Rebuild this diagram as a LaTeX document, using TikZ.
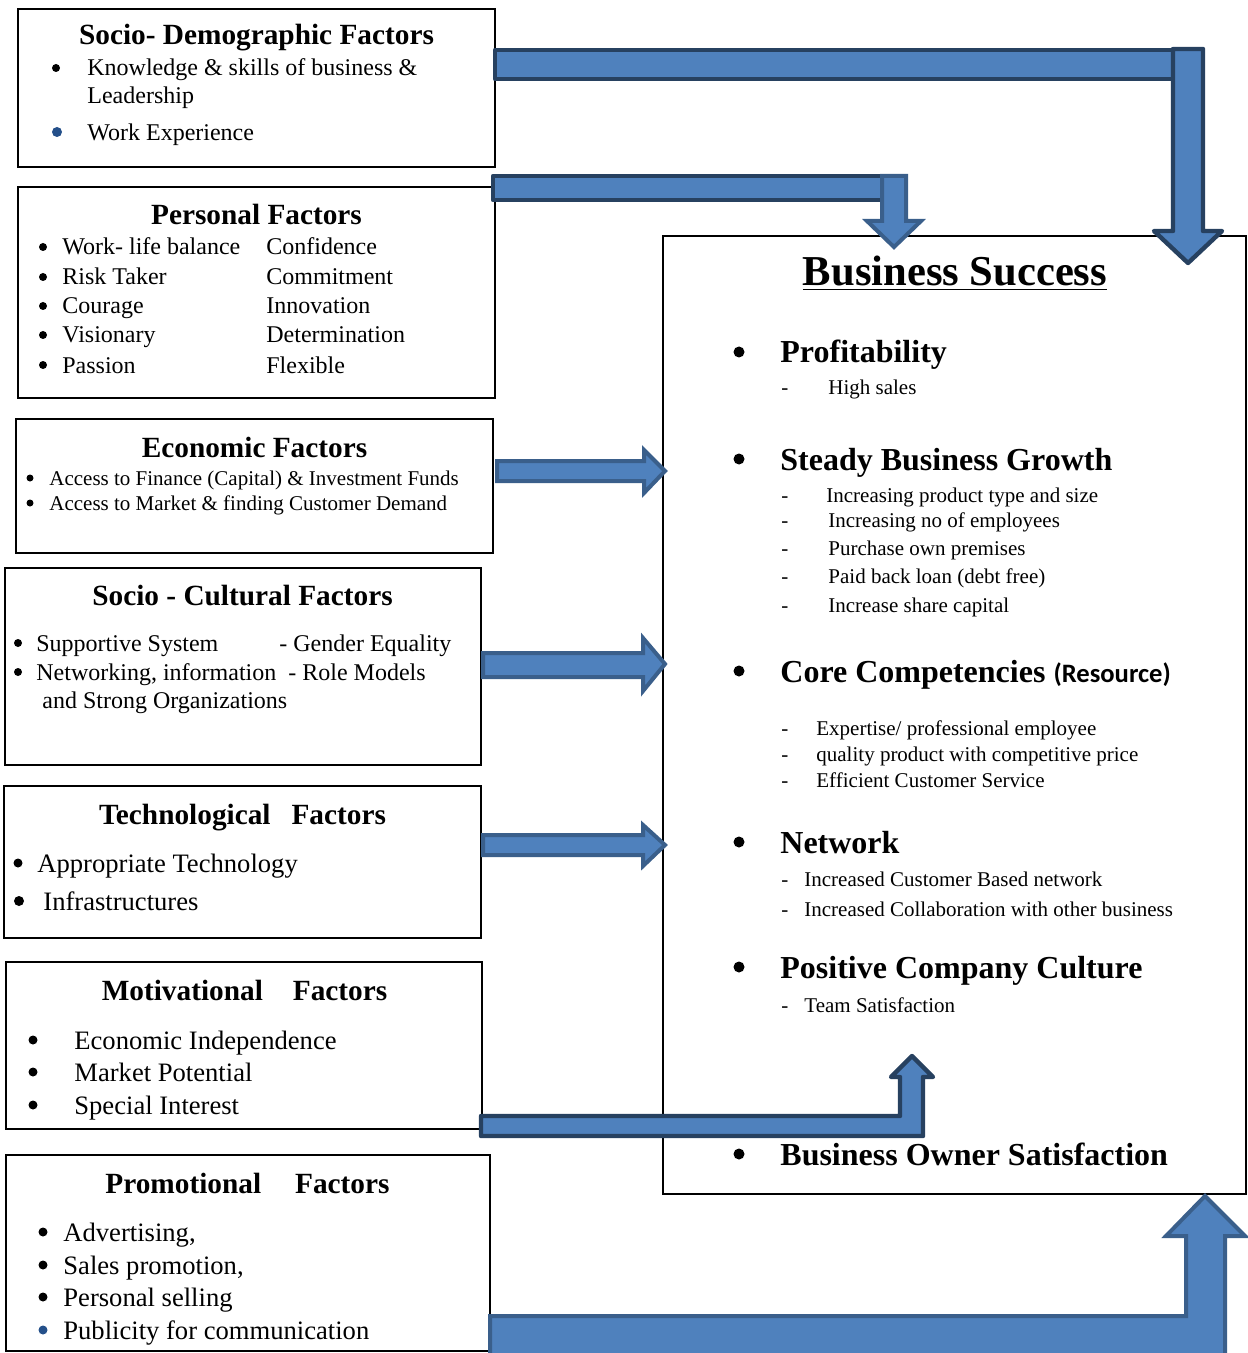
\documentclass[tikz,border=0pt]{standalone}
\usepackage{fontspec}
\setmainfont{Liberation Serif}
\newfontfamily\calibri{Carlito}
\usepackage{xcolor}

\definecolor{arrowfill}{HTML}{4F81BD}
\definecolor{arrowdark}{HTML}{274160}
\definecolor{arrowline}{HTML}{3A5F8B}
\definecolor{bulletblue}{HTML}{24508A}

\newcommand{\fsize}[1]{\fontsize{#1}{#1}\selectfont}

\tikzset{
  box/.style={draw, line width=1pt},
  barrow/.style={fill=arrowfill, draw=arrowdark, line width=2.2pt, line join=round},
  sarrow/.style={fill=arrowfill, draw=arrowline, line width=2pt, line join=miter},
  title/.style={anchor=base, inner sep=0pt, font=\fsize{14.65}\bfseries},
  txt/.style={anchor=base west, inner sep=0pt},
  body/.style={txt, font=\fsize{12}},
  small/.style={txt, font=\fsize{10.5}},
  large/.style={txt, font=\fsize{13.3}},
  goal/.style={txt, font=\fsize{16}\bfseries},
  dot/.style={circle, fill, inner sep=0pt, minimum size=#1},
  dot/.default=4pt,
}

\begin{document}
\begin{tikzpicture}[x=0.5pt, y=-0.5pt]
\useasboundingbox (0,0) rectangle (1247,1353);

% factor boxes on the left, outcome box on the right
\draw[box] (18,9) rectangle (495,167);
\draw[box] (18,187) rectangle (495,398);
\draw[box] (16,419) rectangle (493,553);
\draw[box] (5,568) rectangle (481,765);
\draw[box] (4,786) rectangle (481,938);
\draw[box] (6,962) rectangle (482,1129);
\draw[box] (6,1155) rectangle (490,1351);
\draw[line width=0.8pt] (663,236) rectangle (1246,1194);

% socio-demographic
\node[title] (sdtitle) at (256.5,45) {Socio- Demographic Factors};
\node[dot] (sdb1) at (56,68) {};
\node[body] (sd1) at (87,76) {Knowledge \& skills of business \&};
\node[body] (sd2) at (87,104) {Leadership};
\node[dot=5pt, bulletblue] (sdb2) at (57,132) {};
\node[body] (sd3) at (87,141) {Work Experience};

% personal
\node[title] (pftitle) at (256.5,225) {Personal Factors};
\foreach \y/\a/\b [count=\i] in {255/Work- life balance/Confidence,
    285/Risk Taker/Commitment, 314/Courage/Innovation,
    343/Visionary/Determination, 373/Passion/Flexible} {
  \node[dot] (pfb\i) at (43,\y-8) {};
  \node[body] (pfa\i) at (62,\y) {\a};
  \node[body] (pfc\i) at (266,\y) {\b};
}

% economic
\node[title] (eftitle) at (254.5,457) {Economic Factors};
\foreach \y/\a [count=\i] in {485/Access to Finance (Capital) \& Investment Funds,
    510/Access to Market \& finding Customer Demand} {
  \node[dot=3.5pt] (efb\i) at (30,\y-7) {};
  \node[small] (ef\i) at (49,\y) {\a};
}

% socio-cultural
\node[title] (sctitle) at (242.5,605) {Socio - Cultural Factors};
\node[dot] (scb1) at (18,643) {};
\node[body] (sc1) at (36,651) {Supportive System};
\node[body] (sc2) at (279,651) {- Gender Equality};
\node[dot] (scb2) at (18,672) {};
\node[body] (sc3) at (36,680) {Networking, information};
\node[body] (sc4) at (288,680) {- Role Models};
\node[body] (sc5) at (42,708) {and Strong Organizations};

% technological
\node[title] (tftitle) at (242.5,824) {Technological\hspace{10.5pt}Factors};
\node[dot=4.5pt] (tfb1) at (18,863) {};
\node[large] (tf1) at (37,872) {Appropriate Technology};
\node[dot=5pt] (tfb2) at (19,901) {};
\node[large] (tf2) at (43,910) {Infrastructures};

% motivational
\node[title] (mftitle) at (244.5,1000) {Motivational\hspace{15pt}Factors};
\foreach \y/\a [count=\i] in {1049/Economic Independence, 1081/Market Potential,
    1114/Special Interest} {
  \node[dot=4.5pt] (mfb\i) at (33,\y-9) {};
  \node[large] (mf\i) at (74,\y) {\a};
}

% promotional
\node[title] (prtitle) at (247.5,1193) {Promotional\hspace{17pt}Factors};
\foreach \y/\a [count=\i] in {1241/{Advertising,}, 1274/{Sales promotion,},
    1306/Personal selling} {
  \node[dot=4.5pt] (prb\i) at (43,\y-9) {};
  \node[large] (pr\i) at (63,\y) {\a};
}
\node[dot=4.5pt, bulletblue] (prb4) at (43,1330) {};
\node[large] (pr4) at (63,1339) {Publicity for communication};

% business success
\node[anchor=base, inner sep=0pt, font=\fsize{21.3}\bfseries] (bstitle) at (955,286)
  {\underline{Business Success}};
\foreach \y/\a [count=\i] in {363/Profitability, 470/Steady Business Growth,
    682/{Core Competencies {\calibri\fsize{13.3}\bfseries (Resource)}},
    853/Network, 978/Positive Company Culture, 1165/Business Owner Satisfaction} {
  \node[dot=5.5pt] (gb\i) at (739,\y-11) {};
  \node[goal] (g\i) at (780,\y) {\a};
}
\foreach \y/\x/\a [count=\i] in {394/828/High sales,
    502/826/Increasing product type and size, 527/828/Increasing no of employees,
    555/828/Purchase own premises, 583/828/Paid back loan (debt free),
    612/828/Increase share capital, 735/816/{Expertise/ professional employee},
    761/816/quality product with competitive price,
    787/816/Efficient Customer Service, 886/804/Increased Customer Based network,
    916/804/Increased Collaboration with other business,
    1012/804/Team Satisfaction} {
  \node[small] (sd\i) at (781,\y) {-};
  \node[small] (s\i) at (\x,\y) {\a};
}

% block arrows
\draw[barrow] (495,50) rectangle (1185,79);
\draw[barrow] (1173,49) -- (1203,49) -- (1203,231) -- (1222,231) -- (1188,263)
  -- (1154,231) -- (1173,231) -- cycle;
\draw[barrow] (493,176) rectangle (890,200);
\draw[sarrow] (882,176) -- (906,176) -- (906,221) -- (921,221) -- (894,247)
  -- (867,221) -- (882,221) -- cycle;
\draw[sarrow] (497,461) -- (644,461) -- (644,450) -- (665,471) -- (644,493)
  -- (644,481) -- (497,481) -- cycle;
\draw[sarrow] (483,653) -- (643,653) -- (643,638) -- (665,664) -- (643,691)
  -- (643,677) -- (483,677) -- cycle;
\draw[sarrow] (483,835) -- (643,835) -- (643,825) -- (665,845) -- (643,866)
  -- (643,855) -- (483,855) -- cycle;
\draw[barrow] (481,1116) -- (900,1116) -- (900,1077) -- (891,1077) -- (912,1056)
  -- (933,1077) -- (923,1077) -- (923,1136) -- (481,1136) -- cycle;
\draw[sarrow] (490,1316) -- (1186,1316) -- (1186,1236) -- (1166,1236) -- (1205,1196)
  -- (1245,1236) -- (1225,1236) -- (1225,1380) -- (490,1380) -- cycle;
\end{tikzpicture}
\end{document}
